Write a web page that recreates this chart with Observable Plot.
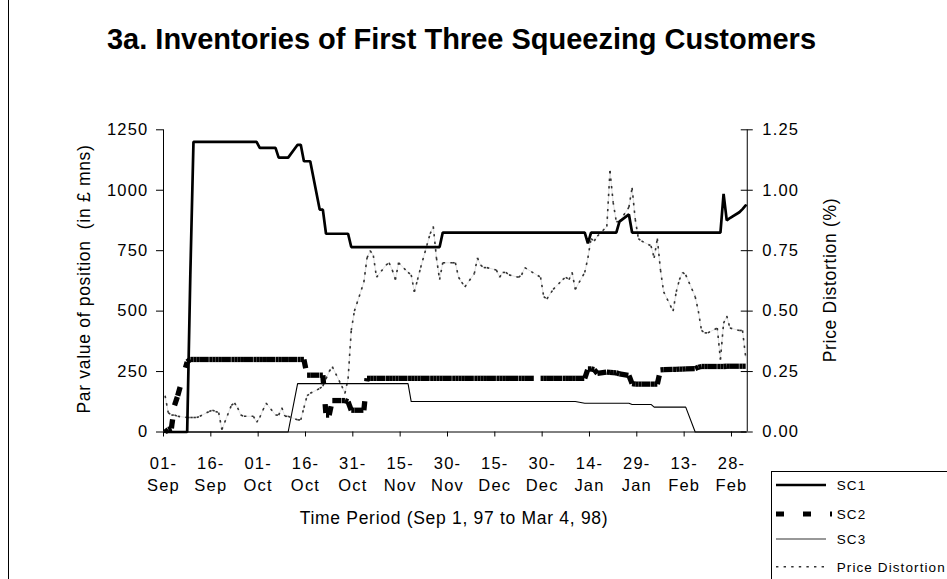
<!DOCTYPE html>
<html><head><meta charset="utf-8">
<script src="https://cdn.jsdelivr.net/npm/d3@7"></script>
<script src="https://cdn.jsdelivr.net/npm/@observablehq/plot@0.6"></script>
<style>
html,body{margin:0;padding:0;background:#fff;}
#chart{width:947px;height:579px;overflow:hidden;position:relative;}
#chart svg text{font-family:"Liberation Sans",Arial,Helvetica,sans-serif;}
#chart svg [aria-label$="tick label"] text{letter-spacing:1.2px;}
</style></head><body><div id="chart"></div>
<script>
// Business days in the sample (Sep 1, 97 to Mar 4, 98)
const dates = [
"1997-09-01","1997-09-02","1997-09-03","1997-09-04","1997-09-05",
"1997-09-08","1997-09-09","1997-09-10","1997-09-11","1997-09-12",
"1997-09-15","1997-09-16","1997-09-17","1997-09-18","1997-09-19",
"1997-09-22","1997-09-23","1997-09-24","1997-09-25","1997-09-26",
"1997-09-29","1997-09-30","1997-10-01","1997-10-02","1997-10-03",
"1997-10-06","1997-10-07","1997-10-08","1997-10-09","1997-10-10",
"1997-10-13","1997-10-14","1997-10-15","1997-10-16","1997-10-17",
"1997-10-20","1997-10-21","1997-10-22","1997-10-23","1997-10-24",
"1997-10-27","1997-10-28","1997-10-29","1997-10-30","1997-10-31",
"1997-11-03","1997-11-04","1997-11-05","1997-11-06","1997-11-07",
"1997-11-10","1997-11-11","1997-11-12","1997-11-13","1997-11-14",
"1997-11-17","1997-11-18","1997-11-19","1997-11-20","1997-11-21",
"1997-11-24","1997-11-25","1997-11-26","1997-11-27","1997-11-28",
"1997-12-01","1997-12-02","1997-12-03","1997-12-04","1997-12-05",
"1997-12-08","1997-12-09","1997-12-10","1997-12-11","1997-12-12",
"1997-12-15","1997-12-16","1997-12-17","1997-12-18","1997-12-19",
"1997-12-22","1997-12-23","1997-12-24",
"1997-12-29","1997-12-30","1997-12-31","1998-01-02",
"1998-01-05","1998-01-06","1998-01-07","1998-01-08","1998-01-09",
"1998-01-12","1998-01-13","1998-01-14","1998-01-15","1998-01-16",
"1998-01-19","1998-01-20","1998-01-21","1998-01-22","1998-01-23",
"1998-01-26","1998-01-27","1998-01-28","1998-01-29","1998-01-30",
"1998-02-02","1998-02-03","1998-02-04","1998-02-05","1998-02-06",
"1998-02-09","1998-02-10","1998-02-11","1998-02-12","1998-02-13",
"1998-02-16","1998-02-17","1998-02-18","1998-02-19","1998-02-20",
"1998-02-23","1998-02-24","1998-02-25","1998-02-26","1998-02-27",
"1998-03-02","1998-03-03","1998-03-04"];

// SC1 inventory (£ mns)
const sc1 = [
0,0,0,0,0, 0,650,1200,1200,1200, 1200,1200,1200,1200,1200, 1200,1200,1200,1200,1200,
1200,1200,1175,1175,1175, 1175,1135,1135,1135,1135, 1188,1188,1120,1120,1120,
920,920,820,820,820, 820,820,820,765,765, 765,765,765,765,765, 765,765,765,765,765,
765,765,765,765,765, 765,765,765,765,825, 825,825,825,825,825, 825,825,825,825,825,
825,825,825,825,825, 825,825,825, 825,825,825,825, 825,825,825,825,825,
825,780,825,825,825, 825,825,825,825,870, 900,825,825,825,825, 825,825,825,825,825,
825,825,825,825,825, 825,825,825,825,825, 825,825,985,875,885, 909,922,937];

// SC2 inventory (£ mns)
const sc2 = [
0,10,15,110,150, 290,300,300,300,300, 300,300,300,300,300, 300,300,300,300,300,
300,300,300,300,300, 300,300,300,300,300, 300,300,300,235,235,
235,235,70,70,130, 130,130,125,90,90, 90,222,222,222,222, 222,222,222,222,222,
222,222,222,222,222, 222,222,222,222,222, 222,222,222,222,222, 222,222,222,222,222,
222,222,222,222,222, 222,222,222, 222,222,222,222, 222,222,222,222,222,
222,261,261,258,242, 248,247,246,245,240, 234,200,198,198,198, 198,198,198,257,258,
259,259,260,260,261, 262,268,271,271,271, 271,271,271,272,272, 272,272,272];

// SC3 inventory (£ mns)
const sc3 = [
0,0,0,0,0, 0,0,0,0,0, 0,0,0,0,0, 0,0,0,0,0,
0,0,0,0,0, 0,0,0,0,0, 200,200,200,200,200,
200,200,200,200,200, 200,200,200,200,200, 200,200,200,200,200, 200,200,200,200,200,
200,126,126,126,126, 126,126,126,126,126, 126,126,126,126,126, 126,126,126,126,126,
126,126,126,126,126, 126,126,126, 126,126,126,126, 126,126,126,126,126,
119,119,119,119,119, 119,119,119,119,119, 119,114,114,114,114, 114,103,103,103,103,
103,103,103,103,103, 0,0,0,0,0, 0,0,0,0,0, 0,0,0];

// Price distortion (%)
const pd = [
.15,.08,.07,.07,.065, .06,.06,.06,.06,.065, .085,.09,.085,.08,.01, .11,.12,.10,.07,.065,
.065,.04,.06,.09,.12, .07,.07,.10,.065,.065, .05,.05,.10,.15,.16,
.18,.19,.22,.25,.27, .19,.16,.22,.42,.50, .62,.72,.75,.73,.64, .69,.70,.67,.63,.70,
.66,.65,.58,.63,.68, .82,.85,.72,.63,.70, .70,.70,.64,.62,.60, .655,.72,.69,.68,.68,
.67,.64,.66,.66,.65, .64,.65,.68, .64,.56,.55,.59, .63,.64,.63,.66,.59,
.66,.72,.80,.79,.81, .85,1.08,.95,.87,.87, .93,1.01,.88,.80,.79, .77,.72,.80,.67,.58,
.50,.58,.63,.66,.65, .56,.50,.42,.41,.41, .43,.30,.45,.48,.43, .42,.42,.31];

const xTicks = ["1997-09-01","1997-09-16","1997-10-01","1997-10-16","1997-10-31","1997-11-15",
"1997-11-30","1997-12-15","1997-12-30","1998-01-14","1998-01-29","1998-02-13","1998-02-28"];
const yTicks = [0, 250, 500, 750, 1000, 1250];          // left axis (£ mns)
const pdTicks = [0, 0.25, 0.5, 0.75, 1.0, 1.25];         // right axis (%)
const xDomain = ["1997-09-01", "1998-03-05"];

const PD_K = 1250 / 1.25; // right axis maps onto the left scale
const rows = dates.map((s, i) => ({date: new Date(s), sc1: sc1[i], sc2: sc2[i], sc3: sc3[i], pd: pd[i]}));
const segs = d3.pairs(rows).map(([a, b]) => ({a, b}));
const mid = d => d3.utcHour.offset(d, 12); // each day's point sits mid-slot

const FONT = "Liberation Sans, Arial, Helvetica, sans-serif";
const fmtX = d => d3.utcFormat("%d-")(d) + "\n" + d3.utcFormat("%b")(d);

const chart = Plot.plot({
  width: 947, height: 579,
  marginLeft: 163, marginRight: 200.25, marginTop: 129.3, marginBottom: 147.5,
  style: {fontFamily: FONT, background: "white", color: "black", overflow: "visible"},
  x: {type: "utc", domain: xDomain.map(s => new Date(s))},
  y: {domain: [0, 1250]},
  marks: [
    Plot.ruleY([0], {stroke: "black", strokeWidth: 1}),
    Plot.ruleX(xDomain.map(s => new Date(s)), {stroke: "black", strokeWidth: 1}),
    Plot.axisX({ticks: xTicks.map(s => new Date(s)), tickFormat: fmtX, tickSize: 5, tickPadding: 16,
      fontSize: 16.5, lineHeight: 1.333, label: null, stroke: "black"}),
    Plot.axisY({anchor: "left", ticks: yTicks, tickSize: 7, tickPadding: 8, fontSize: 16.5,
      tickFormat: d => String(d), label: null}),
    Plot.axisY({anchor: "right", ticks: pdTicks.map(v => v * PD_K), tickSize: 5, tickPadding: 10,
      tickFormat: d => (d / PD_K).toFixed(2), fontSize: 16.5, label: null}),
    Plot.axisY({anchor: "right", ticks: pdTicks.map(v => v * PD_K), tickSize: 7, dx: -7,
      tickFormat: () => "", label: null}),
    // price distortion: faint connecting line + dots restarting on every segment
    Plot.line(rows, {x: d => mid(d.date), y: d => d.pd * PD_K, stroke: "#c4c4c4", strokeWidth: 0.5}),
    Plot.link(segs, {x1: d => mid(d.a.date), y1: d => d.a.pd * PD_K, x2: d => mid(d.b.date), y2: d => d.b.pd * PD_K,
      stroke: "#333", strokeWidth: 1.6, strokeDasharray: "2.4,5.2", strokeLinecap: "butt"}),
    Plot.line(rows, {x: d => mid(d.date), y: "sc3", stroke: "black", strokeWidth: 1.1}),
    Plot.link(segs, {x1: d => mid(d.a.date), y1: d => d.a.sc2, x2: d => mid(d.b.date), y2: d => d.b.sc2,
      stroke: "black", strokeWidth: 5.3, strokeDasharray: "9,20", strokeLinecap: "butt"}),
    Plot.line(rows, {x: d => mid(d.date), y: "sc1", stroke: "black", strokeWidth: 2.7, strokeLinejoin: "miter"})
  ]
});
document.getElementById("chart").appendChild(chart);

// annotations: title, axis titles, legend, frame
const svg = d3.select(chart);
const g = svg.append("g").attr("font-family", FONT).attr("fill", "black").attr("text-anchor", "start");
g.append("line").attr("x1", 8.5).attr("x2", 8.5).attr("y1", 0).attr("y2", 579).attr("stroke", "black");
g.append("text").attr("x", 461.5).attr("y", 49).attr("text-anchor", "middle")
  .attr("font-size", 29).attr("font-weight", "bold").text("3a. Inventories of First Three Squeezing Customers");
g.append("text").attr("transform", "translate(90,279) rotate(-90)").attr("text-anchor", "middle")
  .attr("font-size", 17.5).style("letter-spacing", "0.7px").style("white-space", "pre")
  .text("Par value of position  (in £ mns)");
g.append("text").attr("transform", "translate(836,280) rotate(-90)").attr("text-anchor", "middle")
  .attr("font-size", 17.5).style("letter-spacing", "0.7px").text("Price Distortion (%)");
g.append("text").attr("x", 454).attr("y", 524).attr("text-anchor", "middle")
  .attr("font-size", 17.5).style("letter-spacing", "0.7px").text("Time Period (Sep 1, 97 to Mar 4, 98)");

const legendItems = [
  {name: "SC1", y: 485, w: 2.7, dash: null, x2: 826, color: "black"},
  {name: "SC2", y: 514, w: 5, dash: "8,19", x2: 832, color: "black"},
  {name: "SC3", y: 539, w: 1.1, dash: null, x2: 826, color: "#333"},
  {name: "Price Distortion", y: 566.7, w: 1.6, dash: "2.4,5.2", x2: 826, color: "#333"}
];
const lg = g.append("g");
lg.append("rect").attr("x", 771.5).attr("y", 471.5).attr("width", 200).attr("height", 200)
  .attr("fill", "white").attr("stroke", "black");
for (const it of legendItems) {
  lg.append("line").attr("x1", 776).attr("x2", it.x2).attr("y1", it.y).attr("y2", it.y)
    .attr("stroke", it.color).attr("stroke-width", it.w).attr("stroke-dasharray", it.dash);
  lg.append("text").attr("x", 836.7).attr("y", it.y + 5).attr("font-size", 13.5).attr("text-anchor", "start")
    .style("letter-spacing", "1.1px").text(it.name);
}
</script></body></html>
